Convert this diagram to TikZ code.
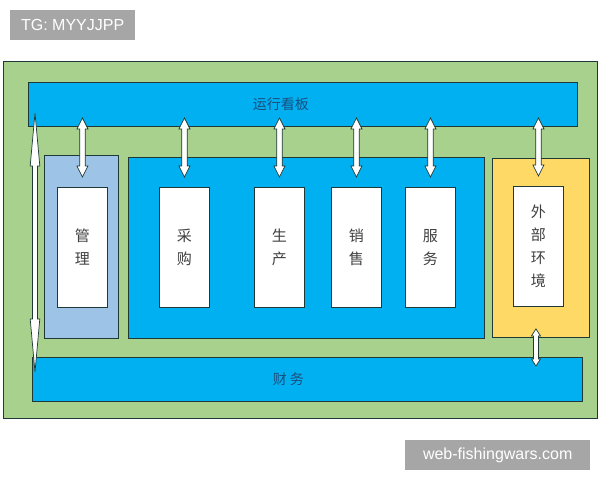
\documentclass[tikz,border=0pt]{standalone}
\usepackage{fontspec}
\setmainfont{Liberation Sans}
\newfontfamily\cjk{Noto Sans CJK SC}
\usetikzlibrary{calc}

\definecolor{frameGreen}{HTML}{A9D18E}
\definecolor{barBlue}{HTML}{00B0F0}
\definecolor{mgBlue}{HTML}{9DC3E6}
\definecolor{envYellow}{HTML}{FFD966}
\definecolor{edge}{HTML}{1F3A36}
\definecolor{barText}{HTML}{1A4E80}
\definecolor{boxText}{HTML}{404040}
\definecolor{markGray}{HTML}{A6A6A6}

% hollow double arrow: top end, bottom end, head length, head half width, shaft half width
\newcommand{\darrow}[5]{%
  \draw[arrowline] let \p1=#1, \p2=#2 in
    (\x1,\y1) -- (\x1+#4,\y1-#3) -- (\x1+#5,\y1-#3) -- (\x1+#5,\y2+#3) -- (\x1+#4,\y2+#3)
    -- (\x1,\y2) -- (\x1-#4,\y2+#3) -- (\x1-#5,\y2+#3) -- (\x1-#5,\y1-#3) -- (\x1-#4,\y1-#3) -- cycle;
}

\begin{document}
\begin{tikzpicture}[x=1pt,y=-1pt,
  box/.style={draw=edge,line width=0.9pt,anchor=north west,inner sep=0pt},
  bar/.style={box,fill=barBlue},
  cell/.style={box,fill=white,minimum width=50pt,minimum height=120pt,text=boxText,
    font=\cjk\fontsize{15}{23}\selectfont,align=center},
  bartext/.style={text=barText,font=\cjk\fontsize{14}{16}\selectfont},
  arrowline/.style={draw=edge,fill=white,line width=0.7pt,line join=miter},
  wmark/.style={fill=markGray,text=white,font=\fontsize{16}{18}\selectfont,anchor=north west,inner sep=0pt}]
\useasboundingbox (0,0) rectangle (600,480);

% Watermarks
\node[wmark,minimum width=125pt,minimum height=30pt] (tg) at (10,10) {TG: MYYJJPP};
\node[wmark,minimum width=185pt,minimum height=30pt] (site) at (405,440) {web-fishingwars.com};

% Frame
\node[box,fill=frameGreen,line width=1.1pt,minimum width=594pt,minimum height=357pt] (frame) at (3,61) {};

% Bars
\node[bar,minimum width=549pt,minimum height=44pt] (kanban) at (28,82) {};
\node[bartext] (kanbanlabel) at ($(kanban.center)+(-22,0)$) {运行看板};
\node[bar,minimum width=550pt,minimum height=44pt] (caiwu) at (32,357) {};
\node[bartext] (caiwulabel) at ($(caiwu.center)+(-19,0)$) {财\hspace{3pt}务};

% Groups
\node[box,fill=mgBlue,minimum width=74pt,minimum height=183pt] (mgouter) at (44,155) {};
\node[box,fill=barBlue,minimum width=356pt,minimum height=181pt] (core) at (128,157) {};
\node[box,fill=envYellow,minimum width=97pt,minimum height=179pt] (env) at (492,158) {};

% Units
\node[cell] (mg) at (57,187) {管\\理};
\node[cell] (cg) at (159,187) {采\\购};
\node[cell] (sc) at (254,187) {生\\产};
\node[cell] (xs) at (331,187) {销\\售};
\node[cell] (fw) at (405,187) {服\\务};
\node[cell] (wb) at (513,186) {外\\部\\环\\境};

% Arrows to the board
\foreach \u in {mg,cg,sc,xs,fw,wb}{
  \coordinate (\u-top) at ([yshift=9pt]kanban.south -| \u.north);
  \coordinate (\u-bot) at ([yshift=10pt]\u.north);
  \darrow{(\u-top)}{(\u-bot)}{11pt}{5.5pt}{2.7pt}
}

% Board to finance
\coordinate (lt) at ([xshift=7pt,yshift=14pt]kanban.south west);
\coordinate (lb) at ([xshift=3pt,yshift=-15pt]caiwu.north west);
\darrow{(lt)}{(lb)}{53pt}{4.8pt}{2.5pt}

% Environment to finance
\coordinate (et) at ([xshift=-2.5pt,yshift=9pt]env.south -| wb.south);
\coordinate (eb) at ([yshift=-9pt]caiwu.north -| et);
\darrow{(et)}{(eb)}{7pt}{4.5pt}{2.5pt}

\end{tikzpicture}
\end{document}
